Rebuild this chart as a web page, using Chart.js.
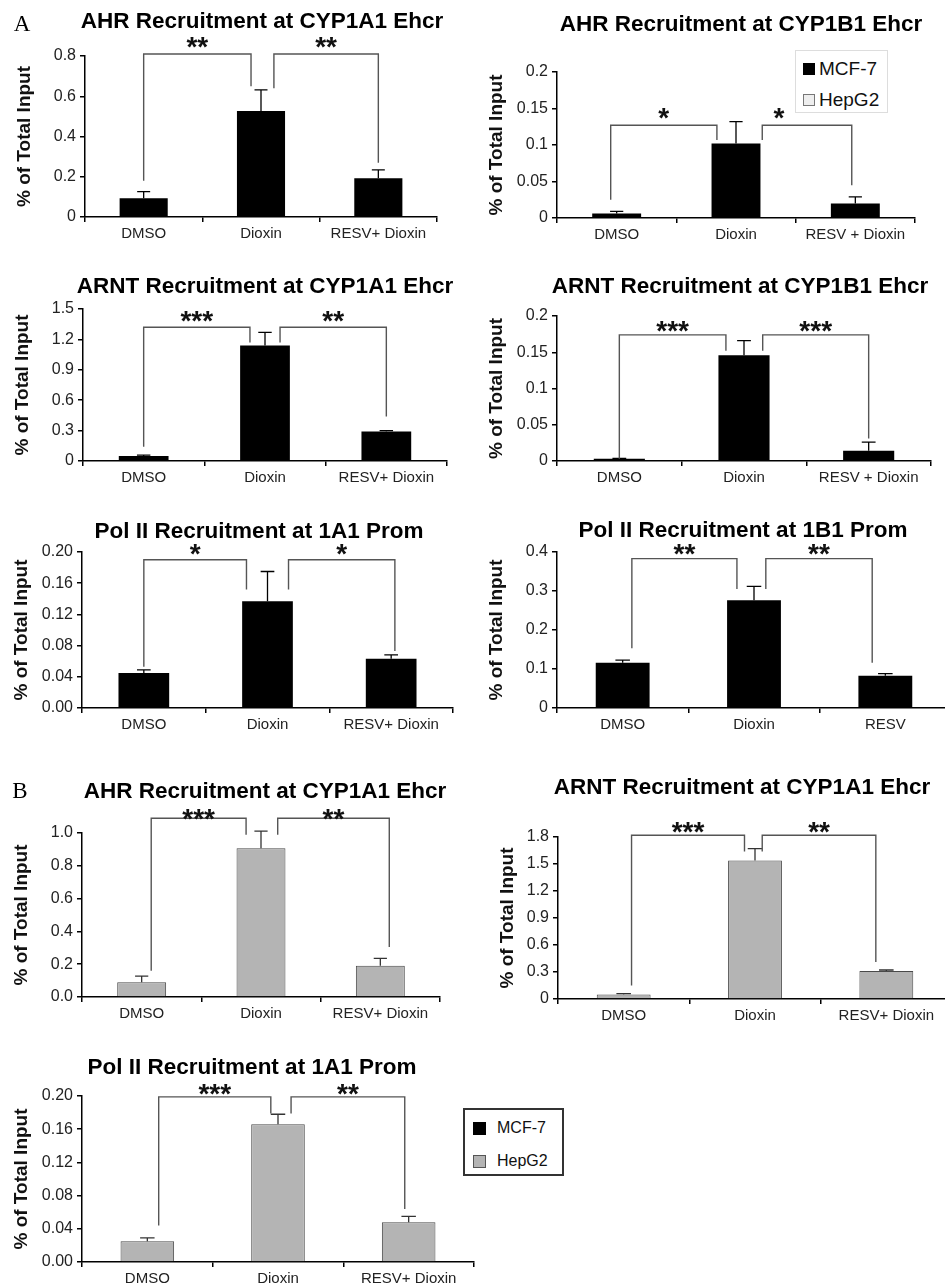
<!DOCTYPE html>
<html>
<head>
<meta charset="utf-8">
<script src="https://cdn.jsdelivr.net/npm/chart.js@4.4.1/dist/chart.umd.min.js"></script>
<style>
html, body { margin: 0; padding: 0; background: #fff; width: 945px; height: 1286px; overflow: hidden; position: relative; font-family: 'Liberation Sans', Arial, sans-serif; }
canvas { position: absolute; }
.legend { position: absolute; background: #fff; box-sizing: border-box; }
.legend .txt { position: absolute; color: #111; }
.legend .sw { position: absolute; box-sizing: border-box; }
</style>
</head>
<body>

<div class="legend" style="left:795px;top:50px;width:93px;height:63px;border:1px solid #ddd;z-index:2;">
  <div class="sw" style="left:7px;top:12px;width:12px;height:12px;background:#000;"></div>
  <div class="txt" style="left:23px;top:8px;font-size:19px;line-height:20px;">MCF-7</div>
  <div class="sw" style="left:7px;top:43px;width:12px;height:12px;background:#eee;border:1px solid #777;"></div>
  <div class="txt" style="left:23px;top:39px;font-size:19px;line-height:20px;">HepG2</div>
</div>

<div class="legend" style="left:463px;top:1108px;width:101px;height:68px;border:2px solid #333;z-index:2;">
  <div class="sw" style="left:8px;top:12px;width:13px;height:13px;background:#000;"></div>
  <div class="txt" style="left:32px;top:10px;font-size:16px;line-height:16px;">MCF-7</div>
  <div class="sw" style="left:8px;top:45px;width:13px;height:13px;background:#b4b4b4;border:1px solid #555;"></div>
  <div class="txt" style="left:32px;top:43px;font-size:16px;line-height:16px;">HepG2</div>
</div>

<script>
const FAMILY = "'Liberation Sans', Arial, sans-serif";

// category labels
const labelsPlus = ['DMSO', 'Dioxin', 'RESV+ Dioxin'];
const labelsSpaced = ['DMSO', 'Dioxin', 'RESV + Dioxin'];
const labelsResv = ['DMSO', 'Dioxin', 'RESV'];

// A: MCF-7 (mean and upper error)
const ahr1a1Mcf = [0.093, 0.527, 0.193];
const ahr1a1McfSem = [0.033, 0.105, 0.041];
const ahr1b1Mcf = [0.006, 0.102, 0.020];
const ahr1b1McfSem = [0.003, 0.030, 0.009];
const arnt1a1Mcf = [0.05, 1.14, 0.29];
const arnt1a1McfSem = [0.008, 0.13, 0.01];
const arnt1b1Mcf = [0.003, 0.146, 0.014];
const arnt1b1McfSem = [0.0005, 0.02, 0.012];
const pol1a1Mcf = [0.045, 0.137, 0.063];
const pol1a1McfSem = [0.004, 0.038, 0.005];
const pol1b1Mcf = [0.116, 0.276, 0.083];
const pol1b1McfSem = [0.007, 0.036, 0.005];

// B: HepG2
const ahr1a1Hep = [0.09, 0.907, 0.19];
const ahr1a1HepSem = [0.037, 0.105, 0.045];
const arnt1a1Hep = [0.05, 1.54, 0.31];
const arnt1a1HepSem = [0.01, 0.13, 0.012];
const pol1a1Hep = [0.025, 0.166, 0.048];
const pol1a1HepSem = [0.004, 0.012, 0.007];

// significance brackets: [from, to, top, dropFrom, dropTo, stars, (starX)]
const sigAhr1a1Mcf = [[0, 0.915, 0.81, 0.18, 0.65, '**'], [1.11, 2, 0.81, 0.64, 0.27, '**']];
const sigAhr1b1Mcf = [[-0.05, 0.84, 0.127, 0.025, 0.107, '*'], [1.22, 1.97, 0.127, 0.107, 0.045, '*', 1.36]];
const sigArnt1a1Mcf = [[0, 0.876, 1.32, 0.14, 1.17, '***'], [1.124, 2, 1.32, 1.17, 0.44, '**']];
const sigArnt1b1Mcf = [[0, 0.855, 0.174, 0.003, 0.152, '***'], [1.15, 2, 0.174, 0.152, 0.031, '***']];
const sigPol1a1Mcf = [[0, 0.83, 0.19, 0.053, 0.152, '*'], [1.17, 2.03, 0.19, 0.152, 0.073, '*']];
const sigPol1b1Mcf = [[0.07, 0.87, 0.383, 0.153, 0.305, '**'], [1.09, 1.9, 0.383, 0.305, 0.116, '**']];
const sigAhr1a1Hep = [[0.08, 0.875, 1.09, 0.16, 0.99, '***'], [1.14, 2.075, 1.09, 0.99, 0.305, '**']];
const sigArnt1a1Hep = [[0.06, 0.92, 1.82, 0.15, 1.64, '***'], [1.055, 1.92, 1.82, 1.64, 0.41, '**']];
const sigPol1a1Hep = [[0.087, 0.945, 0.199, 0.044, 0.179, '***'], [1.10, 1.97, 0.199, 0.179, 0.064, '**']];

const MCF = { fill: '#000', border: '#000', bw: 0, err: '#000' };
const HEP = { fill: '#b4b4b4', border: '#4a4a4a', bw: 1, err: '#333' };

// plot = [left, right, top, bottom] in page pixels
const panels = [
  { title: 'AHR Recruitment at CYP1A1 Ehcr', tx: 262, ty: 22, letter: ['A', 22, 25], plot: [85, 437, 56, 217],
    labels: labelsPlus, values: ahr1a1Mcf, sem: ahr1a1McfSem, style: MCF, max: 0.8, step: 0.2, dec: null, sig: sigAhr1a1Mcf, gap: 11 },
  { title: 'AHR Recruitment at CYP1B1 Ehcr', tx: 741, ty: 25, plot: [557, 915, 72, 218],
    labels: labelsSpaced, values: ahr1b1Mcf, sem: ahr1b1McfSem, style: MCF, max: 0.2, step: 0.05, dec: null, sig: sigAhr1b1Mcf, gap: 12 },
  { title: 'ARNT Recruitment at CYP1A1 Ehcr', tx: 265, ty: 287, plot: [83, 447, 309, 461],
    labels: labelsPlus, values: arnt1a1Mcf, sem: arnt1a1McfSem, style: MCF, max: 1.5, step: 0.3, dec: null, sig: sigArnt1a1Mcf, gap: 11 },
  { title: 'ARNT Recruitment at CYP1B1 Ehcr', tx: 740, ty: 287, plot: [557, 931, 316, 461],
    labels: labelsSpaced, values: arnt1b1Mcf, sem: arnt1b1McfSem, style: MCF, max: 0.2, step: 0.05, dec: null, sig: sigArnt1b1Mcf, gap: 8 },
  { title: 'Pol II Recruitment at 1A1 Prom', tx: 259, ty: 532, plot: [82, 453, 552, 708],
    labels: labelsPlus, values: pol1a1Mcf, sem: pol1a1McfSem, style: MCF, max: 0.2, step: 0.04, dec: 2, sig: sigPol1a1Mcf, gap: 10.5 },
  { title: 'Pol II Recruitment at 1B1 Prom', tx: 743, ty: 531, plot: [557, 951, 552, 708],
    labels: labelsResv, values: pol1b1Mcf, sem: pol1b1McfSem, style: MCF, max: 0.4, step: 0.1, dec: null, sig: sigPol1b1Mcf, gap: 9 },
  { title: 'AHR Recruitment at CYP1A1 Ehcr', tx: 265, ty: 792, letter: ['B', 20, 792], plot: [82, 440, 833, 997],
    labels: labelsPlus, values: ahr1a1Hep, sem: ahr1a1HepSem, style: HEP, max: 1.0, step: 0.2, dec: 1, sig: sigAhr1a1Hep, gap: 4 },
  { title: 'ARNT Recruitment at CYP1A1 Ehcr', tx: 742, ty: 788, plot: [558, 952, 837, 999], yw: 62,
    labels: labelsPlus, values: arnt1a1Hep, sem: arnt1a1HepSem, style: HEP, max: 1.8, step: 0.3, dec: null, sig: sigArnt1a1Hep, gap: 8 },
  { title: 'Pol II Recruitment at 1A1 Prom', tx: 252, ty: 1068, plot: [82, 474, 1096, 1262],
    labels: labelsPlus, values: pol1a1Hep, sem: pol1a1HepSem, style: HEP, max: 0.2, step: 0.04, dec: 2, sig: sigPol1a1Hep, gap: 7.5 }
];

function fmt(v, dec) {
  if (dec === null) return String(Number(v.toFixed(4)));
  return v.toFixed(dec);
}

const panelDecor = {
  id: 'panelDecor',
  afterDraw(chart, args, o) {
    const { ctx } = chart;
    const xs = chart.scales.x, ys = chart.scales.y;
    const meta = chart.getDatasetMeta(0);
    ctx.save();

    // error bars (upper only)
    ctx.strokeStyle = o.errColor;
    ctx.lineWidth = 1.3;
    meta.data.forEach((bar, i) => {
      const v = chart.data.datasets[0].data[i];
      const top = ys.getPixelForValue(v + o.sem[i]);
      const half = bar.width * 0.135;
      ctx.beginPath();
      ctx.moveTo(bar.x, bar.y);
      ctx.lineTo(bar.x, top);
      ctx.moveTo(bar.x - half, top);
      ctx.lineTo(bar.x + half, top);
      ctx.stroke();
    });

    // significance brackets
    ctx.strokeStyle = '#555';
    ctx.lineWidth = 1.4;
    ctx.fillStyle = '#111';
    ctx.font = 'bold 28px ' + FAMILY;
    ctx.textAlign = 'center';
    ctx.textBaseline = 'alphabetic';
    o.sig.forEach(b => {
      const x1 = xs.getPixelForValue(b[0]);
      const x2 = xs.getPixelForValue(b[1]);
      const yt = ys.getPixelForValue(b[2]);
      ctx.beginPath();
      ctx.moveTo(x1, ys.getPixelForValue(b[3]));
      ctx.lineTo(x1, yt);
      ctx.lineTo(x2, yt);
      ctx.lineTo(x2, ys.getPixelForValue(b[4]));
      ctx.stroke();
      const m = ctx.measureText(b[5]);
      const mid = (m.actualBoundingBoxDescent - m.actualBoundingBoxAscent) / 2;
      const sx = b.length > 6 ? xs.getPixelForValue(b[6]) : (x1 + x2) / 2;
      ctx.fillText(b[5], sx, yt - o.gap - mid);
    });

    // panel title and letter
    ctx.fillStyle = '#000';
    ctx.font = 'bold 22.5px ' + FAMILY;
    ctx.textBaseline = 'middle';
    ctx.fillText(o.title, o.tx - o.left, o.ty - o.top);
    if (o.letter) {
      ctx.font = "23px 'Liberation Serif', 'Times New Roman', serif";
      ctx.fillText(o.letter[0], o.letter[1] - o.left, o.letter[2] - o.top);
    }
    ctx.restore();
  }
};

function makeChart(p) {
  const yw = p.yw || 72;
  const extra = 30; // room on the right for the title
  const left = p.plot[0] - yw - 2;
  const top = p.ty - 16;
  const w = p.plot[1] - left + extra;
  const h = p.plot[3] + 32 - top;
  const canvas = document.createElement('canvas');
  canvas.width = w;
  canvas.height = h;
  canvas.style.left = left + 'px';
  canvas.style.top = top + 'px';
  canvas.style.width = w + 'px';
  canvas.style.height = h + 'px';
  document.body.appendChild(canvas);

  new Chart(canvas, {
    type: 'bar',
    data: {
      labels: p.labels,
      datasets: [{
        data: p.values,
        backgroundColor: p.style.fill,
        borderColor: p.style.border,
        borderWidth: p.style.bw,
        barPercentage: 1,
        categoryPercentage: 0.41
      }]
    },
    options: {
      responsive: false,
      animation: false,
      events: [],
      layout: { padding: { left: 2, right: extra, top: p.plot[2] - top, bottom: 0 } },
      plugins: {
        legend: { display: false },
        tooltip: { enabled: false },
        panelDecor: {
          sem: p.sem, errColor: p.style.err, sig: p.sig, gap: p.gap,
          title: p.title, tx: p.tx, ty: p.ty, letter: p.letter, left: left, top: top
        }
      },
      scales: {
        x: {
          afterFit(s) { s.height = 32; },
          grid: { display: true, drawOnChartArea: false, drawTicks: true, tickLength: 5, color: '#000', lineWidth: 1.5 },
          border: { color: '#000', width: 1.5 },
          ticks: { font: { size: 15, family: FAMILY }, color: '#222', padding: 3, maxRotation: 0 }
        },
        y: {
          min: 0,
          max: p.max,
          afterFit(s) { s.width = yw; },
          grid: { display: true, drawOnChartArea: false, drawTicks: true, tickLength: 5, color: '#000', lineWidth: 1.5 },
          border: { color: '#000', width: 1.5 },
          ticks: { stepSize: p.step, callback: v => fmt(v, p.dec), font: { size: 16, family: FAMILY }, color: '#222', padding: 4 },
          title: { display: true, text: '% of Total Input', font: { size: 19, weight: 'bold', family: FAMILY }, color: '#111', padding: 0 }
        }
      }
    },
    plugins: [panelDecor]
  });
}

panels.forEach(makeChart);
</script>
</body>
</html>
